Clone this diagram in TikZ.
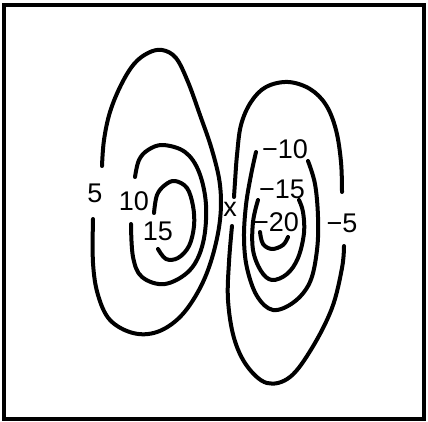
\documentclass[tikz,border=0pt]{standalone}
\usepackage{fontspec}
\setmainfont{Liberation Sans}
\usepackage{tikz}

\begin{document}
\begin{tikzpicture}[x=1pt, y=-1pt,
  contour/.style={line width=4pt, line cap=round, line join=round},
  lbl/.style={font=\fontsize{27}{28}\selectfont, inner sep=0pt}
]
\useasboundingbox (0,0) rectangle (428,422);
% Frame
\draw[line width=3.5pt] (4,5) rectangle (424,419);

% Positive contours
\draw[contour] plot[smooth, tension=0.6] coordinates {(102,166) (104,140) (110,112) (121,85) (134,64) (148,53) (162,50) (176,58) (188,82) (200,115) (212,150) (220,185) (220,220) (212,258) (199,290) (180,317) (157,332) (133,333) (110,320) (98,295) (93,263) (93,219)};
\draw[contour] plot[smooth, tension=0.6] coordinates {(135,177) (139,160) (148,150) (163,145) (185,152) (199,172) (206,205) (203,243) (190,270) (165,284) (142,277) (133,257) (131,224)};
\draw[contour] plot[smooth, tension=0.6] coordinates {(154,213) (157,195) (165,185) (175,181) (187,188) (193,206) (194,226) (189,246) (178,258) (166,259) (158,249)};

% Negative contours
\draw[contour] plot[smooth, tension=0.6] coordinates {(342,192) (341,162) (336,130) (326,105) (310,89) (288,82) (266,87) (251,102) (241,125) (237,155) (235,182) (234,197)};
\draw[contour] plot[smooth, tension=0.6] coordinates {(232,226) (229,262) (228,300) (234,338) (247,366) (267,383) (290,377) (312,348) (332,308) (342,268) (344,246)};
\draw[contour] plot[smooth, tension=0.6] coordinates {(256,152) (251,175) (246,205) (244,238) (247,268) (257,296) (273,310) (294,302) (310,282) (317,250) (318,217) (315,184) (308,161)};
\draw[contour] plot[smooth, tension=0.6] coordinates {(258,200) (253,222) (253,250) (261,271) (272,280) (287,274) (298,258) (304,233) (303,212) (299,200)};
\draw[contour] plot[smooth, tension=0.6] coordinates {(260,232) (263,244) (272,249) (283,245) (288,237)};

% Labels
\node[lbl] (p5) at (95,193) {5};
\node[lbl] (p10) at (134,201) {10};
\node[lbl] (p15) at (158,231) {15};
\node[lbl] (n5) at (342,223) {−5};
\node[lbl] (n10) at (285,149) {−10};
\node[lbl] (n15) at (282,189) {−15};
\node[lbl] (n20) at (276,222) {−20};
\node[lbl] (xmark) at (230,209) {x};
\end{tikzpicture}
\end{document}
